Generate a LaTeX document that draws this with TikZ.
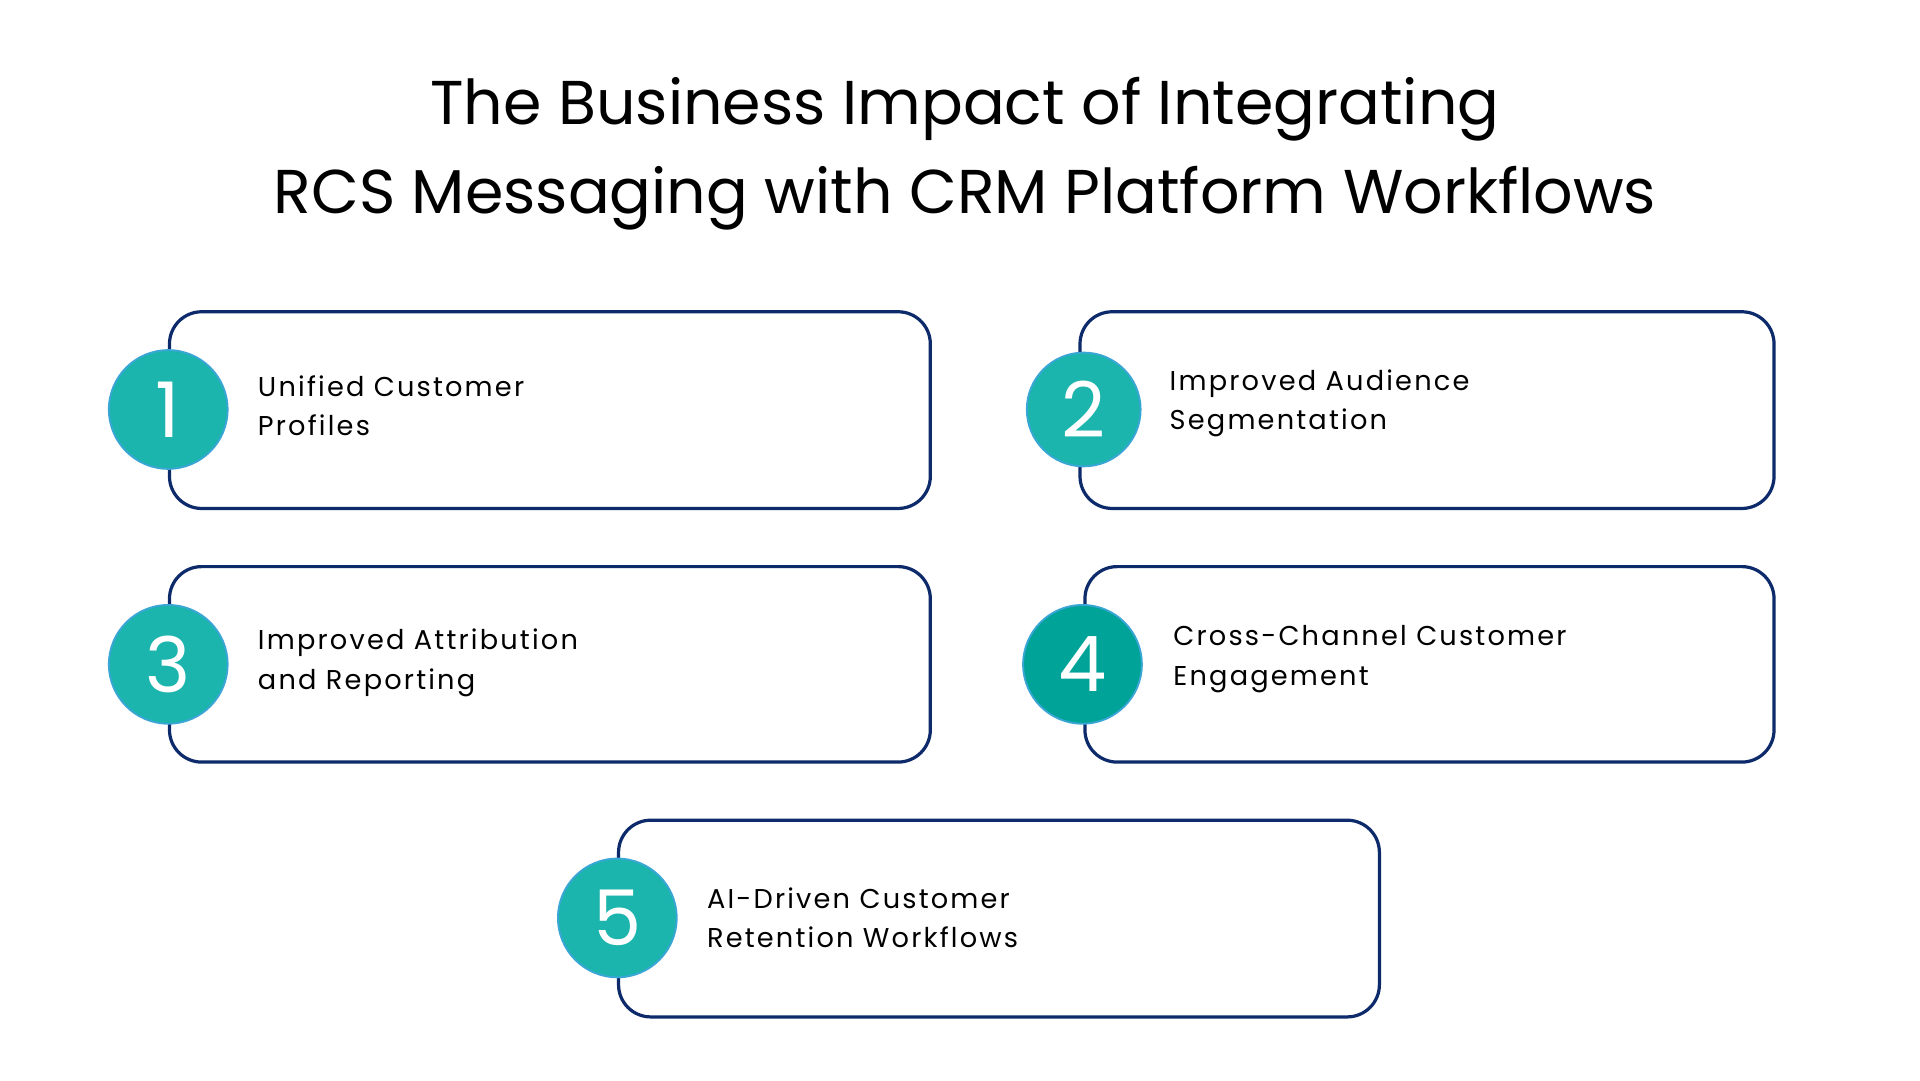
\documentclass[tikz,border=0pt]{standalone}
\usepackage{fontspec}
\setmainfont{Poppins}
\definecolor{navy}{HTML}{0D2A6B}
\definecolor{teal1}{HTML}{1BB5AD}
\definecolor{teal2}{HTML}{00A398}
\definecolor{ring}{HTML}{3AA6D6}
\begin{document}
\begin{tikzpicture}[x=1pt,y=-1pt,
  card/.style={draw=navy,line width=2.6pt,rounded corners=26pt,fill=white},
  num/.style={circle,fill=teal1,draw=ring,line width=1.5pt,minimum size=96pt,inner sep=0pt,text=white,font=\fontsize{62}{62}\selectfont},
  lbl/.style={anchor=west,align=left,font=\fontsize{22}{32}\selectfont\addfontfeatures{LetterSpace=8}}]
\useasboundingbox[fill=white] (0,0) rectangle (1552,873);
\node[align=center,font=\fontsize{50}{72}\selectfont] (title) at (780,124) {The Business Impact of Integrating\\RCS Messaging with CRM Platform Workflows};
\draw[card] (137,252) rectangle (752,411);
\draw[card] (873,252) rectangle (1434,411);
\draw[card] (137,458) rectangle (752,616);
\draw[card] (877,458) rectangle (1434,616);
\draw[card] (500,663) rectangle (1115,822);
\node[num] (n1) at (136,331) {1};
\node[num,minimum size=92pt] (n2) at (876,331) {2};
\node[num] (n3) at (136,537) {3};
\node[num,fill=teal2] (n4) at (875,537) {4};
\node[num] (n5) at (499,742) {5};
\node[lbl] (t1) at (205,328) {Unified Customer\\Profiles};
\node[lbl] (t2) at (942,326) {Improved Audience\\Segmentation};
\node[lbl] (t3) at (205,536) {Improved Attribution\\and Reporting};
\node[lbl] (t4) at (945,533) {Cross-Channel Customer\\Engagement};
\node[lbl] (t5) at (568,742) {AI-Driven Customer\\Retention Workflows};
\end{tikzpicture}
\end{document}
